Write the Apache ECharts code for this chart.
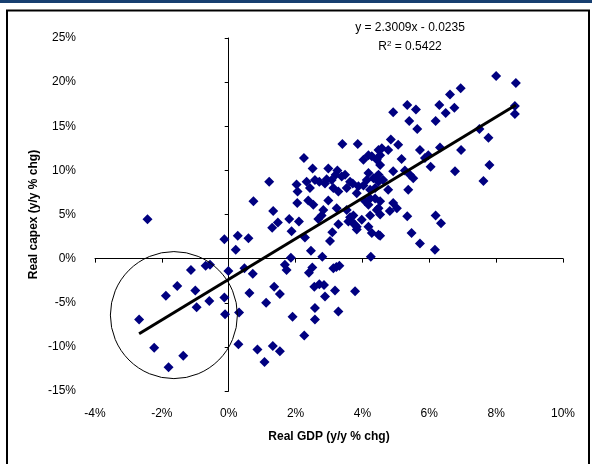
<!DOCTYPE html>
<html>
<head>
<meta charset="utf-8">
<script src="https://cdn.jsdelivr.net/npm/echarts@6/dist/echarts.min.js"></script>
<style>
  html, body { margin: 0; padding: 0; background: #fff; }
  #chart { width: 592px; height: 464px; }
</style>
</head>
<body>
<div id="chart"></div>
<script>
// Real GDP growth (x, y/y %) vs real capex growth (y, y/y %)
const gdpGrowth = [
  -2.43, -0.13, 0.27, 0.21, -1.13, -0.69, -0.56, -0.01, -1.54, -1.88,
  -1.00, -0.96, -0.58, -0.13, -0.11, -2.68, -2.23, -1.36, -1.80, 0.29,
  0.31, 0.47, 0.72, 1.86, 1.68, 1.73, 2.50, 2.40, 2.80, 3.13,
  3.31, 4.25, 1.36, 1.53, 0.62, 1.12, 2.56, 2.71, 2.85, 3.18,
  2.88, 3.78, 2.58, 3.28, 2.58, 1.91, 2.26, 0.86, 1.32, 1.53,
  1.07, 2.25, 2.51, 2.98, 3.25, 4.03, 4.28, 4.43, 1.21, 2.03,
  2.33, 2.58, 2.71, 2.43, 2.06, 2.88, 3.08, 3.20, 3.38, 3.13,
  3.28, 3.53, 3.71, 3.88, 4.03, 4.18, 4.33, 4.48, 0.74, 2.05,
  2.38, 2.53, 2.98, 3.23, 2.83, 2.78, 3.53, 3.73, 3.68, 3.83,
  1.33, 1.81, 2.10, 1.47, 1.30, 1.88, 3.28, 3.10, 3.03, 2.28,
  0.59, 2.46, 4.18, 4.28, 4.48, 4.08, 4.18, 4.23, 4.43, 3.40,
  3.86, 4.18, 4.48, 8.00, 8.59, 6.94, 6.62, 6.30, 6.75, 6.49,
  6.19, 5.34, 5.60, 4.92, 5.40, 5.64, 8.56, 8.56, 7.50, 7.77,
  4.85, 5.07, 4.58, 4.53, 4.77, 5.72, 5.97, 6.32, 6.95, 5.17,
  5.87, 4.53, 4.92, 5.27, 5.52, 5.42, 6.04, 6.77, 7.80, 7.62,
  4.43, 4.48, 4.38, 4.77, 5.37, 4.38, 4.53, 4.48, 4.53, 4.92,
  5.03, 4.82, 5.34, 6.19, 6.35, 5.47, 4.53, 5.72, 6.17, 4.23,
  4.23, 4.13, 4.62, 3.83, 3.48, 3.63, 2.93, 3.63, 3.58, 3.78,
  3.83, 3.98, 2.68, 3.22
];
const capexGrowth = [
  4.46, 2.2, 2.6, 1.0, -1.3, -0.8, -0.7, -1.4, -3.1, -4.2,
  -3.6, -5.5, -4.8, -4.4, -6.3, -6.9, -10.1, -11.0, -12.3, -9.7,
  -6.1, -1.1, -1.7, 0.1, -0.7, -1.3, -1.0, -1.6, 0.2, -1.1,
  -0.8, 0.2, -3.2, -4.0, -3.9, -5.0, -3.2, -2.9, -3.0, -3.6,
  -4.3, -3.7, -5.6, -6.0, -6.9, -6.6, -8.7, -10.3, -9.9, -10.5,
  -11.7, 11.4, 10.2, 10.2, 10.0, 11.2, 11.6, 11.2, 8.7, 8.4,
  8.7, 8.9, 8.7, 8.0, 7.6, 8.5, 8.9, 9.5, 9.3, 8.0,
  7.6, 8.0, 8.5, 8.2, 8.3, 9.7, 9.1, 9.5, 6.5, 6.3,
  6.6, 6.1, 6.6, 5.7, 5.5, 4.9, 5.5, 4.9, 4.2, 3.6,
  5.4, 4.5, 4.2, 4.1, 3.5, 3.1, 3.9, 3.0, 2.0, 2.4,
  2.3, 0.9, 3.6, 2.9, 2.7, 6.5, 6.1, 4.9, 5.5, 13.0,
  13.0, 11.7, 12.3, 20.7, 19.9, 19.3, 18.6, 17.4, 17.1, 16.5,
  15.6, 17.4, 16.9, 16.6, 15.6, 14.7, 17.3, 16.4, 14.7, 13.7,
  13.5, 12.9, 12.5, 11.7, 12.3, 12.3, 11.7, 12.6, 12.3, 11.3,
  11.4, 10.6, 9.9, 10.0, 9.1, 9.5, 10.4, 9.9, 10.6, 8.8,
  9.3, 8.7, 8.0, 7.8, 7.8, 6.8, 6.5, 5.7, 5.0, 6.3,
  5.7, 5.4, 4.8, 4.9, 4.0, 2.9, 2.6, 1.7, 1.0, 7.8,
  6.8, 8.9, 8.9, 7.4, 9.5, 8.7, 9.0, 4.7, 4.2, 3.8,
  3.3, 4.4, 4.5, -0.95
];

// Axis ranges and tick steps (percent)
const xRange = [-4, 10];
const xStep = 2;
const yRange = [-15, 25];
const yStep = 5;

// Linear trend: y = 2.3009x - 0.0235 (fractions), R^2 = 0.5422
const trendSlope = 2.3009;
const trendIntercept = -0.0235;
const trendR2 = 0.5422;

// Ring around the recession observations (data units, percent)
const ringCenter = [-1.64, -6.4];
const ringRadiusX = 1.9;

const FONT = 'Liberation Sans, Arial, sans-serif';

const points = gdpGrowth.map((x, i) => [x, capexGrowth[i]]);
const xMinData = Math.min(...gdpGrowth);
const xMaxData = Math.max(...gdpGrowth);
const trendAt = x => (trendSlope * (x / 100) + trendIntercept) * 100;
const trendLine = [[xMinData, trendAt(xMinData)], [xMaxData, trendAt(xMaxData)]];

const chart = echarts.init(document.getElementById('chart'), null, { renderer: 'canvas' });

const labelAxisX = {
  type: 'value', min: xRange[0], max: xRange[1], interval: xStep, position: 'bottom',
  axisLine: { show: false }, axisTick: { show: false }, splitLine: { show: false },
  axisLabel: { formatter: '{value}%', margin: 17, color: '#000', fontSize: 12, fontFamily: FONT,
               showMinLabel: true, showMaxLabel: true },
  name: 'Real GDP (y/y % chg)', nameLocation: 'middle', nameGap: 40, nameMoveOverlap: false,
  nameTextStyle: { color: '#000', fontSize: 12, fontWeight: 'bold', fontFamily: FONT }
};
const lineAxisX = {
  type: 'value', min: xRange[0], max: xRange[1], interval: xStep, position: 'bottom',
  axisLine: { show: true, onZero: true, onZeroAxisIndex: 1, lineStyle: { color: '#000', width: 1 } },
  axisTick: { show: true, length: 4, lineStyle: { color: '#000' } },
  axisLabel: { show: false }, splitLine: { show: false }
};
const labelAxisY = {
  type: 'value', min: yRange[0], max: yRange[1], interval: yStep, position: 'left',
  axisLine: { show: false }, axisTick: { show: false }, splitLine: { show: false },
  axisLabel: { formatter: '{value}%', margin: 19, color: '#000', fontSize: 12, fontFamily: FONT,
               showMinLabel: true, showMaxLabel: true },
  name: 'Real capex (y/y % chg)', nameLocation: 'middle', nameGap: 55, nameMoveOverlap: false,
  nameTextStyle: { color: '#000', fontSize: 12, fontWeight: 'bold', fontFamily: FONT }
};
const lineAxisY = {
  type: 'value', min: yRange[0], max: yRange[1], interval: yStep, position: 'left',
  axisLine: { show: true, onZero: true, onZeroAxisIndex: 1, lineStyle: { color: '#000', width: 1 } },
  axisTick: { show: true, length: 4, lineStyle: { color: '#000' } },
  axisLabel: { show: false }, splitLine: { show: false }
};

chart.setOption({
  animation: false,
  backgroundColor: '#fff',
  grid: { left: 95, right: 29, top: 38, bottom: 73, containLabel: false },
  xAxis: [labelAxisX, lineAxisX],
  yAxis: [labelAxisY, lineAxisY],
  series: [
    {
      type: 'scatter', xAxisIndex: 0, yAxisIndex: 0,
      symbol: 'diamond', symbolSize: 10,
      itemStyle: { color: '#000080', opacity: 1 },
      data: points, z: 3
    },
    {
      type: 'line', xAxisIndex: 0, yAxisIndex: 0,
      showSymbol: false, symbol: 'none',
      lineStyle: { color: '#000', width: 3 },
      data: trendLine, z: 4
    }
  ]
});

// Frame, top rule, equation text and the ring annotation
const c = chart.convertToPixel({ xAxisIndex: 0, yAxisIndex: 0 }, ringCenter);
const edge = chart.convertToPixel({ xAxisIndex: 0, yAxisIndex: 0 }, [ringCenter[0] + ringRadiusX, ringCenter[1]]);
const r = Math.abs(edge[0] - c[0]);

chart.setOption({
  graphic: [
    { type: 'rect', shape: { x: 0, y: 0, width: 592, height: 3 }, style: { fill: '#173f70' }, silent: true },
    { type: 'rect', shape: { x: 7, y: 10.5, width: 582, height: 470 },
      style: { fill: 'none', stroke: '#000', lineWidth: 2 }, silent: true },
    { type: 'circle', shape: { cx: c[0], cy: c[1], r: r },
      style: { fill: 'none', stroke: '#000', lineWidth: 1 }, z: 10, silent: true },
    { type: 'text', x: 410, y: 28, z: 10,
      style: { text: 'y = ' + trendSlope.toFixed(4) + 'x - ' + Math.abs(trendIntercept).toFixed(4),
               fill: '#000', font: '12px ' + FONT, align: 'center', verticalAlign: 'middle' } },
    { type: 'text', x: 410, y: 47, z: 10,
      style: { text: 'R{sup|2} = ' + trendR2.toFixed(4),
               fill: '#000', font: '12px ' + FONT, align: 'center', verticalAlign: 'middle',
               rich: { sup: { fontSize: 8, fontFamily: FONT, verticalAlign: 'top', padding: [0, 0, 6, 0] } } } }
  ]
});
</script>
</body>
</html>
